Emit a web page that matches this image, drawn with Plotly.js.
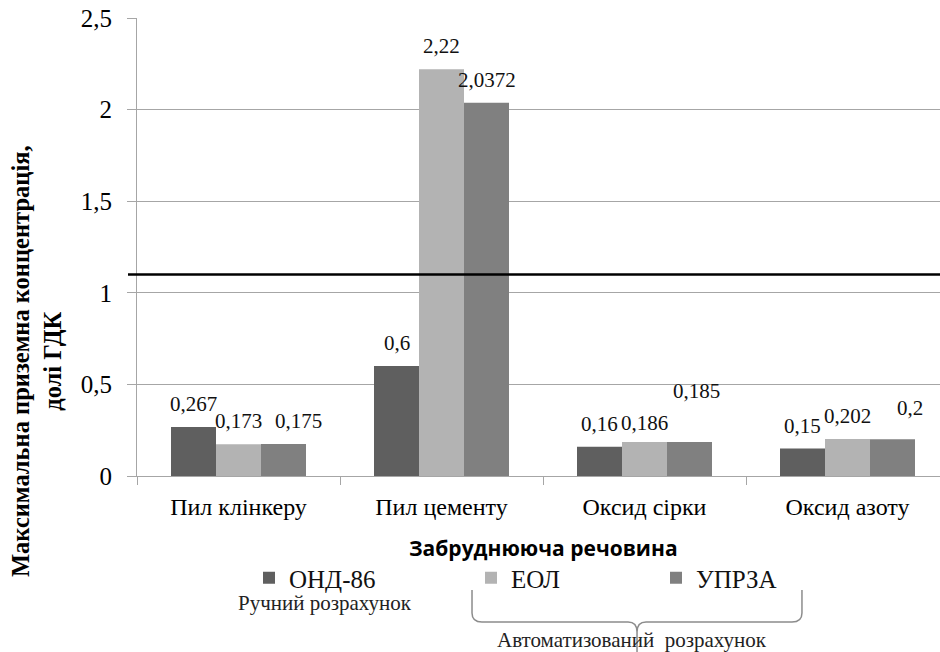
<!DOCTYPE html>
<html>
<head>
<meta charset="utf-8">
<script src="https://cdn.plot.ly/plotly-3.0.1.min.js"></script>
<style>html,body{margin:0;padding:0;background:#fff}#chart{width:940px;height:652px}</style>
</head>
<body>
<div id="chart"></div>
<script>
// ---- data ----
const categories = ['Пил клінкеру', 'Пил цементу', 'Оксид сірки', 'Оксид азоту'];
const seriesNames = ['ОНД-86', 'ЕОЛ', 'УПРЗА'];
const ond86 = [0.267, 0.6, 0.16, 0.15];
const eol = [0.173, 2.22, 0.186, 0.202];
const uprza = [0.175, 2.0372, 0.185, 0.2];
const limitLevel = 1.1;
const yTickValues = [0, 0.5, 1, 1.5, 2, 2.5];
const xAxisTitle = 'Забруднююча речовина';
const yAxisTitle = 'Максимальна приземна концентрація,<br>долі ГДК';
const manualNote = 'Ручний розрахунок';
const autoNote = 'Автоматизований  розрахунок';

// ---- styles ----
const colors = ['#5f5f5f', '#b3b3b3', '#808080'];
const serif = 'Liberation Serif, Tinos, Times New Roman, serif';
const sans = 'Open Sans, Liberation Sans, sans-serif';
const gridGray = '#a6a6a6';
const W = 940, H = 652;
const M = {l: 137, r: 0, t: 18, b: 176};
const plotW = W - M.l - M.r, plotH = H - M.t - M.b;
const px = x => (x - M.l) / plotW;          // pixel -> paper x
const py = y => (H - M.b - y) / plotH;      // pixel -> paper y
const barPx = 45;
// label nudges (pixels) keyed by series index and category index
const labelNudge = {'2-0': [15, 0], '1-2': [0, -4], '2-2': [7, 28], '2-3': [17, 8]};

const allSeries = [ond86, eol, uprza];
const legendX = [249, 471, 656];

const traces = allSeries.map((vals, i) => ({
  type: 'bar',
  name: seriesNames[i],
  x: categories,
  y: vals,
  marker: {color: colors[i]},
  legend: i === 0 ? 'legend' : 'legend' + (i + 1),
  hoverinfo: 'x+y+name'
}));

const fmt = v => String(v).replace('.', ',');
const annotations = [];
allSeries.forEach((vals, i) => {
  vals.forEach((v, j) => {
    const n = labelNudge[i + '-' + j] || [0, 0];
    annotations.push({
      xref: 'x', yref: 'y', x: categories[j], y: v,
      xshift: (i - 1) * barPx + n[0], yshift: 23 + n[1],
      text: fmt(v), showarrow: false, yanchor: 'middle', xanchor: 'center',
      font: {family: serif, size: 21, color: '#111'}
    });
  });
});
annotations.push({
  xref: 'paper', yref: 'paper', x: px(543), y: py(548), text: '<b>' + xAxisTitle + '</b>',
  showarrow: false, xanchor: 'center', yanchor: 'middle', font: {family: sans, size: 21, color: '#000'}
});
annotations.push({
  xref: 'paper', yref: 'paper', x: px(36), y: py(361), text: '<b>' + yAxisTitle + '</b>', textangle: -90,
  showarrow: false, xanchor: 'center', yanchor: 'middle', align: 'center',
  font: {family: serif, size: 24.5, color: '#000'}
});
annotations.push({
  xref: 'paper', yref: 'paper', x: px(325), y: py(603), text: manualNote,
  showarrow: false, xanchor: 'center', yanchor: 'middle', font: {family: serif, size: 21, color: '#222'}
});
annotations.push({
  xref: 'paper', yref: 'paper', x: px(632), y: py(640), text: autoNote,
  showarrow: false, xanchor: 'center', yanchor: 'middle', font: {family: serif, size: 21, color: '#222'}
});

// curly brace path in paper coordinates
const P = (x, y) => px(x).toFixed(4) + ',' + py(y).toFixed(4);
const bracePath = 'M' + P(472, 590) + ' L' + P(472, 613) + ' Q' + P(472, 622) + ' ' + P(482, 622) +
  ' L' + P(628, 622) + ' Q' + P(637, 622) + ' ' + P(637, 632) + ' L' + P(637, 652) +
  ' M' + P(802, 590) + ' L' + P(802, 613) + ' Q' + P(802, 622) + ' ' + P(792, 622) +
  ' L' + P(646, 622) + ' Q' + P(637, 622) + ' ' + P(637, 632);

const legendBase = i => ({
  orientation: 'h', xref: 'container', yref: 'container',
  x: legendX[i] / W, y: 1 - 578 / H, xanchor: 'left', yanchor: 'middle',
  bgcolor: 'rgba(0,0,0,0)', font: {family: serif, size: 25, color: '#111'}
});

const layout = {
  width: W, height: H,
  margin: M,
  font: {family: serif},
  paper_bgcolor: '#fff', plot_bgcolor: '#fff',
  separators: ', ',
  bargap: 0.335, bargroupgap: 0,
  showlegend: true,
  legend: legendBase(0), legend2: legendBase(1), legend3: legendBase(2),
  xaxis: {
    type: 'category', range: [-0.5, -0.5 + plotW / 203],
    showline: true, linecolor: gridGray, linewidth: 1,
    ticks: 'outside', tickson: 'boundaries', ticklen: 8, tickcolor: gridGray,
    showgrid: false, ticklabelstandoff: 9,
    tickfont: {family: serif, size: 24, color: '#000'}
  },
  yaxis: {
    range: [0, 2.5], tickvals: yTickValues,
    showline: true, linecolor: gridGray, linewidth: 1,
    ticks: 'outside', ticklen: 9, tickcolor: gridGray,
    showgrid: true, gridcolor: gridGray, gridwidth: 1, zeroline: false,
    ticklabelstandoff: 10,
    tickfont: {family: serif, size: 25, color: '#000'}
  },
  shapes: [
    {type: 'line', xref: 'paper', yref: 'y', x0: px(128), x1: 1, y0: limitLevel, y1: limitLevel,
     line: {color: '#000', width: 2.5}},
    {type: 'path', xref: 'paper', yref: 'paper', path: bracePath, line: {color: '#8c8c8c', width: 1.5}}
  ],
  annotations: annotations
};

Plotly.newPlot('chart', traces, layout, {displayModeBar: false, staticPlot: true});
</script>
</body>
</html>
